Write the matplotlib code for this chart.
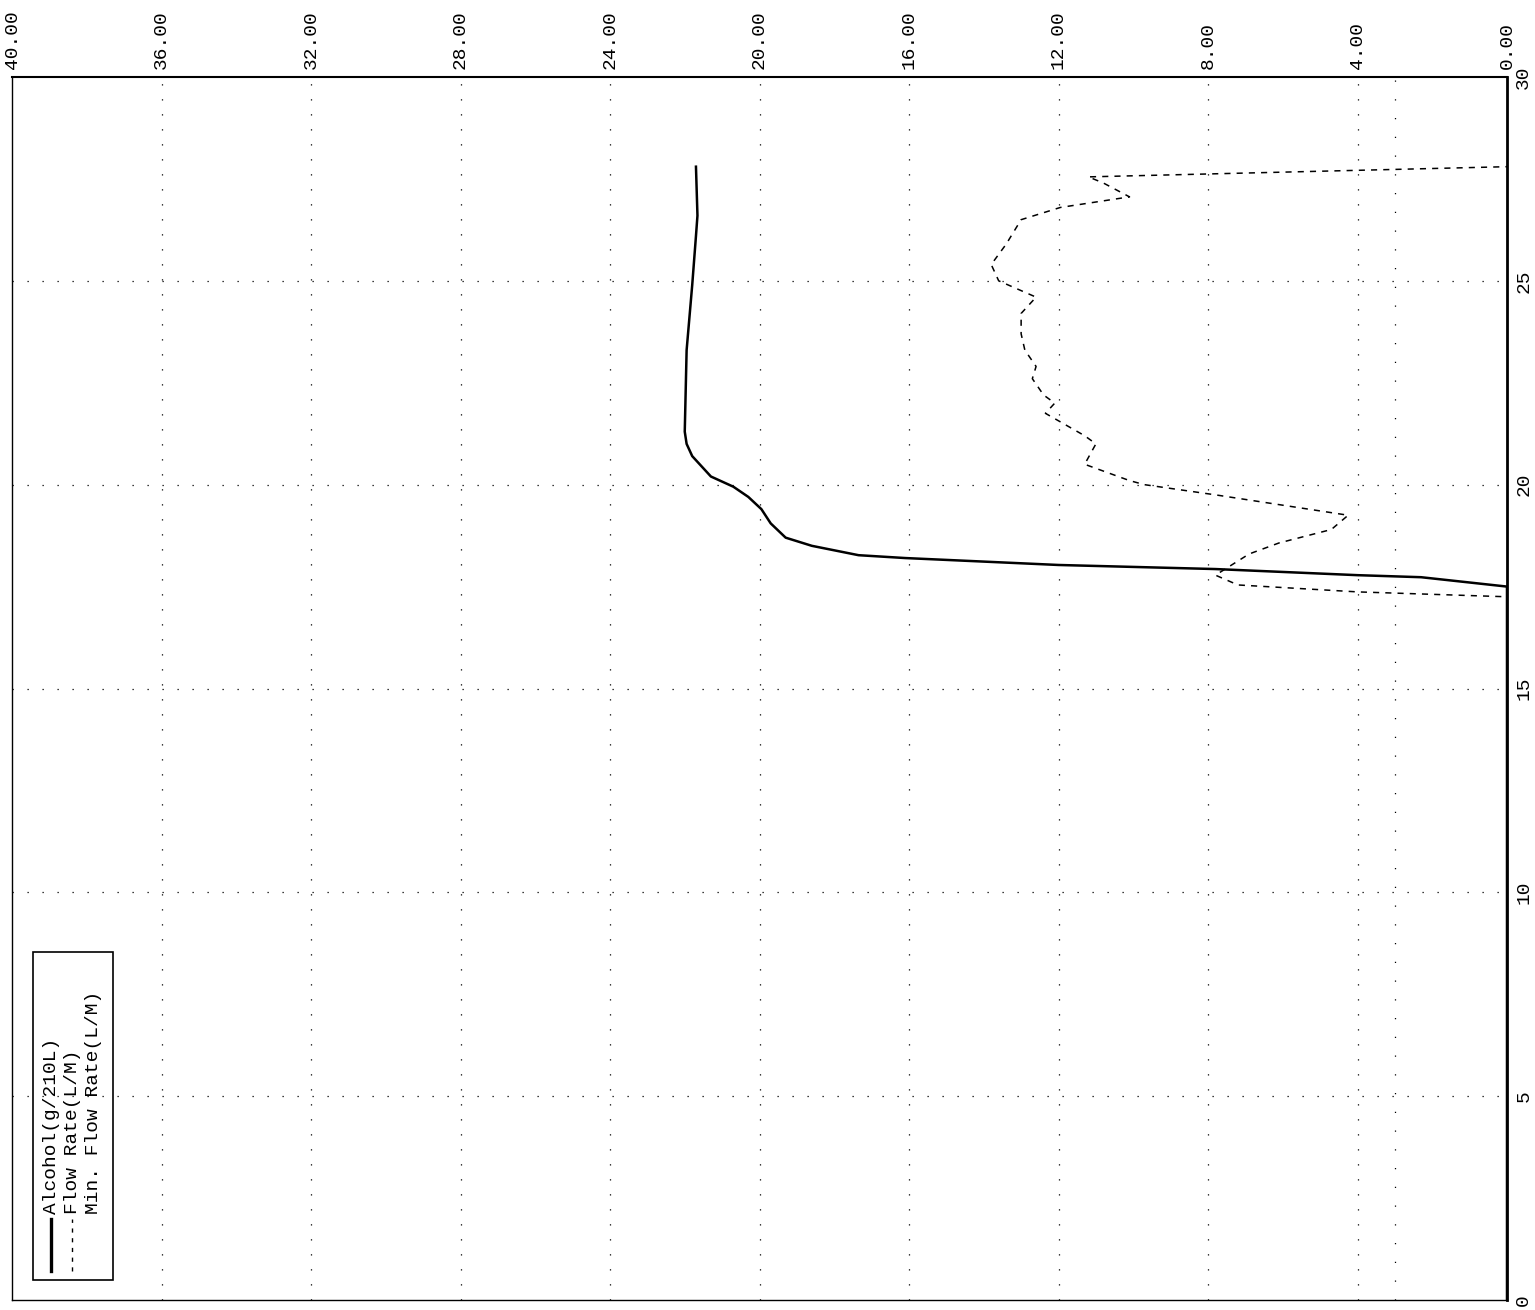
import matplotlib
matplotlib.use("Agg")
import matplotlib.pyplot as plt
from matplotlib.lines import Line2D
from matplotlib.patches import Rectangle

# breath test trace (chart is printed rotated 90 deg: time runs up, values run right-to-left)
time_alcohol = [0, 17.5, 17.73, 17.78, 17.93, 18.03, 18.2, 18.27, 18.5, 18.7, 19.05,
                19.4, 19.7, 19.95, 20.2, 20.5, 20.7, 21.0, 21.3, 23.3, 24.9, 26.1, 26.6, 27.8]
alcohol = [0, 0, 2.3, 4.0, 7.8, 12.0, 16.1, 17.35, 18.6, 19.3, 19.7,
           19.95, 20.3, 20.7, 21.3, 21.6, 21.8, 21.95, 22.0, 21.95, 21.8, 21.7, 21.66, 21.7]

time_flow = [0, 17.25, 17.37, 17.54, 17.78, 18.3, 18.57, 18.9, 19.25, 19.75, 20.0,
             20.1, 20.5, 21.0, 21.2, 21.75, 22.0, 22.2, 22.6, 22.9, 23.3, 23.7,
             24.2, 24.6, 24.8, 25.0, 25.4, 25.9, 26.5, 26.8, 27.06, 27.4, 27.55, 27.8]
flow_rate = [0, 0, 4.0, 7.2, 7.8, 6.9, 6.1, 4.7, 4.25, 7.8, 9.7,
             10.1, 11.3, 11.0, 11.3, 12.35, 12.1, 12.4, 12.7, 12.6, 12.9, 13.0,
             13.0, 12.6, 13.1, 13.6, 13.8, 13.4, 13.0, 11.95, 10.1, 10.8, 11.2, 0]

min_flow = 3.0

value_ticks = [40, 36, 32, 28, 24, 20, 16, 12, 8, 4, 0]
time_ticks = [0, 5, 10, 15, 20, 25, 30]
legend_labels = ["Alcohol(g/210L)", "Flow Rate(L/M)", "Min. Flow Rate(L/M)"]

font = ["Liberation Mono", "DejaVu Sans Mono"]
plt.rcParams["font.family"] = font

fig = plt.figure(figsize=(15.35, 13.10), dpi=100)
ax = fig.add_axes([12 / 1535, 10 / 1310, 1495 / 1535, 1223 / 1310])

# grid (sparse dots, like the printout)
grid_style = dict(color="black", linestyle=(0, (1, 11)), linewidth=0.9)
for v in value_ticks[1:-1]:
    ax.axvline(v, **grid_style)
for t in time_ticks[1:-1]:
    ax.axhline(t, **grid_style)
ax.axvline(min_flow, color="black", linestyle=(0, (1, 14)), linewidth=0.9)

ax.plot(alcohol, time_alcohol, color="black", linewidth=1.8)
ax.plot(flow_rate, time_flow, color="black", linewidth=1.1, linestyle=(0, (4, 4)))

ax.set_xlim(40, 0)
ax.set_ylim(0, 30)

ax.xaxis.tick_top()
ax.set_xticks(value_ticks)
ax.set_xticklabels(["%.2f" % v for v in value_ticks], rotation=90)
ax.yaxis.tick_right()
ax.set_yticks(time_ticks)
ax.set_yticklabels([str(t) for t in time_ticks], rotation=90, va="center")
ax.tick_params(length=0, labelsize=14, pad=6)

for side in ["left", "bottom"]:
    ax.spines[side].set_linewidth(1.0)
ax.spines["top"].set_linewidth(1.5)
ax.spines["right"].set_linewidth(2.0)

# hand-made rotated legend
ax.add_patch(Rectangle((0.014, 0.0164), 0.0535, 0.268, transform=ax.transAxes,
                       fill=False, edgecolor="black", linewidth=1.2))
ax.add_line(Line2D([0.0262, 0.0262], [0.0237, 0.0662], transform=ax.transAxes,
                   color="black", linewidth=2.4))
ax.add_line(Line2D([0.0402, 0.0402], [0.0237, 0.0662], transform=ax.transAxes,
                   color="black", linewidth=1.0, linestyle=(0, (3, 4))))
for i, lab in enumerate(legend_labels):
    ax.text(0.0262 + i * 0.014, 0.0703, lab, transform=ax.transAxes, rotation=90,
            ha="center", va="bottom", fontsize=14)

fig.savefig("out.png", dpi=100, facecolor="white")
